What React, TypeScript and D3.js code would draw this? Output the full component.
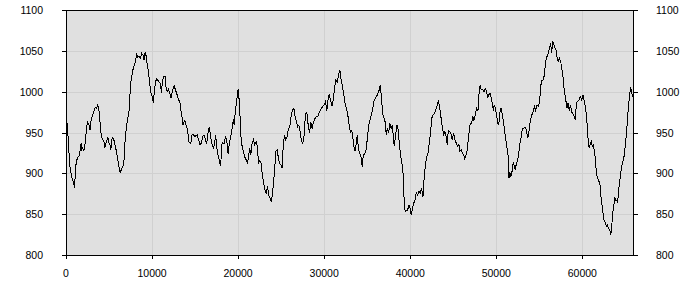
import React from "react";
import * as d3 from "d3";

// Traced series: x positions and values
const xValues: number[] = [
  0, 117, 195, 311, 389, 506, 700, 856, 1012, 1089, 1245, 1401, 1556, 1673, 1751, 1829, 1946, 2062, 2179, 2335,
  2490, 2646, 2802, 2918, 3074, 3230, 3385, 3541, 3696, 3852, 3969, 4086, 4241, 4397, 4514, 4630, 4747, 4864, 4981, 5097,
  5214, 5370, 5525, 5681, 5837, 5992, 6148, 6304, 6459, 6615, 6732, 6848, 7004, 7160, 7315, 7393, 7471, 7626, 7782, 7938,
  8093, 8210, 8327, 8482, 8638, 8794, 8949, 9066, 9183, 9339, 9455, 9572, 9728, 9844, 10000, 10156, 10272, 10389, 10506, 10661,
  10817, 10973, 11089, 11206, 11362, 11518, 11634, 11751, 11907, 12062, 12218, 12374, 12568, 12724, 12918, 13074, 13230, 13346, 13463, 13580,
  13696, 13813, 13930, 14047, 14163, 14280, 14397, 14514, 14630, 14786, 14942, 15097, 15253, 15409, 15564, 15720, 15875, 16031, 16187, 16342,
  16498, 16654, 16770, 16926, 17121, 17276, 17393, 17510, 17626, 17743, 17860, 17977, 18093, 18210, 18366, 18521, 18677, 18833, 18988, 19144,
  19300, 19455, 19533, 19689, 19844, 20000, 20156, 20310, 20465, 20620, 20775, 20969, 21085, 21202, 21357, 21473, 21628, 21783, 21938, 22093,
  22248, 22364, 22519, 22674, 22791, 22946, 23101, 23256, 23411, 23566, 23721, 23876, 23992, 24109, 24264, 24380, 24535, 24690, 24845, 25000,
  25116, 25233, 25388, 25543, 25698, 25853, 26008, 26163, 26318, 26473, 26589, 26744, 26899, 27054, 27209, 27364, 27519, 27674, 27829, 27984,
  28140, 28295, 28450, 28605, 28760, 28915, 29070, 29225, 29380, 29535, 29690, 29845, 30000, 30155, 30310, 30465, 30581, 30736, 30891, 31047,
  31202, 31357, 31512, 31667, 31822, 31977, 32132, 32287, 32442, 32597, 32752, 32907, 33062, 33178, 33295, 33450, 33605, 33721, 33837, 33953,
  34109, 34264, 34419, 34535, 34690, 34845, 35000, 35155, 35310, 35465, 35620, 35775, 35930, 36085, 36240, 36395, 36512, 36628, 36744, 36860,
  37016, 37132, 37209, 37326, 37481, 37636, 37791, 37946, 38023, 38140, 38295, 38450, 38605, 38760, 38915, 39070, 39186, 39302, 39419, 39574,
  39690, 39845, 40000, 40116, 40233, 40388, 40543, 40698, 40853, 41008, 41163, 41318, 41473, 41589, 41744, 41899, 42054, 42209, 42364, 42481,
  42636, 42791, 42946, 43101, 43256, 43411, 43566, 43721, 43876, 44031, 44186, 44302, 44419, 44574, 44729, 44884, 45039, 45194, 45349, 45504,
  45659, 45775, 45930, 46085, 46240, 46318, 46473, 46628, 46744, 46860, 46977, 47132, 47248, 47403, 47558, 47713, 47868, 48023, 48140, 48256,
  48411, 48566, 48721, 48876, 48992, 49109, 49264, 49419, 49535, 49651, 49767, 49884, 50000, 50116, 50233, 50349, 50465, 50581, 50698, 50814,
  50930, 51047, 51163, 51279, 51395, 51473, 51589, 51705, 51860, 51977, 52093, 52209, 52326, 52481, 52597, 52752, 52907, 53023, 53178, 53333,
  53488, 53643, 53798, 53953, 54109, 54264, 54419, 54574, 54729, 54884, 55039, 55155, 55271, 55426, 55581, 55736, 55891, 56047, 56202, 56318,
  56434, 56550, 56667, 56822, 56938, 57054, 57171, 57326, 57481, 57636, 57752, 57868, 57984, 58101, 58217, 58333, 58488, 58605, 58760, 58915,
  59070, 59186, 59302, 59457, 59612, 59767, 59922, 60078, 60194, 60349, 60465, 60581, 60698, 60814, 60930, 61047, 61163, 61279, 61395, 61512,
  61628, 61783, 61938, 62054, 62171, 62287, 62403, 62519, 62674, 62791, 62907, 63023, 63178, 63295, 63411, 63527, 63643, 63760, 63876, 63992,
  64109, 64225, 64341, 64457, 64574, 64690, 64806, 64922, 65039, 65155, 65271, 65388, 65504, 65581, 65698, 65814, 65930, 66000,
];

const yValues: number[] = [
  955, 962, 951, 937, 914, 904, 894, 889, 882, 906, 916, 920, 922, 930, 937, 929, 931, 927, 933, 949,
  963, 960, 953, 965, 971, 975, 981, 980, 984, 975, 961, 947, 941, 940, 931, 937, 940, 944, 938, 935,
  929, 944, 943, 935, 928, 918, 908, 900, 906, 908, 914, 937, 955, 967, 975, 986, 1006, 1018, 1027, 1033,
  1037, 1047, 1042, 1043, 1041, 1047, 1045, 1039, 1048, 1043, 1031, 1025, 1010, 1000, 994, 986, 1002, 1010, 1016, 1014,
  1012, 1010, 998, 1014, 1018, 1018, 1004, 1000, 1003, 998, 992, 1002, 1007, 1002, 996, 990, 988, 977, 971, 959,
  963, 965, 959, 957, 949, 939, 937, 937, 947, 948, 945, 946, 947, 941, 935, 937, 945, 947, 942, 936,
  949, 957, 947, 937, 931, 937, 947, 933, 924, 920, 912, 909, 935, 937, 936, 945, 941, 924, 937, 945,
  955, 967, 959, 977, 990, 1003, 986, 947, 933, 927, 920, 916, 912, 920, 931, 922, 937, 941, 935, 939,
  933, 912, 916, 912, 900, 890, 880, 876, 884, 873, 869, 865, 876, 888, 908, 927, 929, 918, 912, 910,
  906, 933, 947, 941, 945, 955, 957, 971, 977, 980, 971, 965, 957, 959, 951, 939, 937, 947, 973, 975,
  959, 949, 963, 955, 963, 967, 969, 969, 973, 977, 980, 982, 984, 988, 977, 992, 996, 990, 982, 990,
  1004, 1014, 1012, 1020, 1027, 1014, 1006, 996, 984, 980, 971, 959, 949, 953, 947, 933, 927, 937, 947, 933,
  924, 922, 908, 922, 924, 927, 941, 957, 965, 971, 977, 988, 992, 994, 998, 1002, 1008, 996, 980, 969,
  967, 959, 947, 955, 949, 961, 955, 959, 945, 933, 947, 959, 953, 933, 920, 910, 898, 863, 853, 855,
  855, 861, 857, 849, 855, 863, 867, 876, 873, 878, 876, 882, 871, 890, 908, 920, 924, 937, 949, 967,
  971, 973, 977, 982, 988, 982, 969, 957, 947, 951, 945, 935, 953, 951, 949, 941, 949, 941, 937, 933,
  935, 927, 929, 924, 922, 917, 922, 929, 941, 953, 961, 961, 970, 965, 971, 980, 977, 1002, 1008, 1002,
  1003, 1000, 1004, 1000, 992, 996, 998, 992, 986, 977, 984, 980, 973, 965, 959, 965, 980, 980, 971, 965,
  955, 945, 937, 929, 920, 894, 901, 896, 904, 914, 908, 904, 912, 916, 924, 937, 945, 955, 955, 957,
  953, 943, 951, 965, 971, 975, 982, 977, 984, 982, 988, 1006, 1014, 1014, 1020, 1037, 1043, 1047, 1055, 1059,
  1047, 1061, 1059, 1053, 1051, 1043, 1037, 1041, 1037, 1027, 1018, 1004, 996, 988, 980, 986, 977, 984, 975, 973,
  969, 965, 986, 988, 990, 994, 990, 996, 990, 982, 971, 957, 935, 931, 937, 939, 933, 935, 927, 918,
  900, 894, 890, 886, 871, 861, 851, 843, 839, 835, 837, 833, 831, 824, 835, 851, 859, 871, 867, 867,
  865, 880, 890, 900, 908, 914, 918, 927, 939, 953, 971, 986, 994, 1006, 1002, 994, 998, 996,
];

const xTicks: number[] = [0, 10000, 20000, 30000, 40000, 50000, 60000];
const yTicks: number[] = [800, 850, 900, 950, 1000, 1050, 1100];

const W = 700;
const H = 300;
const M = { left: 66, right: 66, top: 10, bottom: 45 };

export default function App() {
  const innerW = W - M.left - M.right;
  const innerH = H - M.top - M.bottom;
  const x = d3.scaleLinear().domain([0, 66000]).range([M.left, M.left + innerW]);
  const y = d3.scaleLinear().domain([800, 1100]).range([M.top + innerH, M.top]);
  const pts: [number, number][] = xValues.map((v, i) => [v, yValues[i]]);
  const line = d3
    .line<[number, number]>()
    .x((d) => x(d[0]))
    .y((d) => y(d[1]));
  const font = "'Liberation Sans', Arial, sans-serif";
  const x0 = M.left;
  const x1 = M.left + innerW;
  const y0 = M.top + innerH;
  const y1 = M.top;
  return (
    <svg
      width={W}
      height={H}
      style={{ position: "absolute", left: 0, top: 0, display: "block" }}
    >
      <rect x={0} y={0} width={W} height={H} fill="#ffffff" />
      <rect x={x0} y={y1} width={innerW} height={innerH} fill="#e0e0e0" />
      <g shapeRendering="crispEdges" stroke="#d0d0d0" strokeWidth={1}>
        {xTicks.slice(1).map((t) => (
          <line key={"gx" + t} x1={Math.round(x(t)) + 0.5} x2={Math.round(x(t)) + 0.5} y1={y1} y2={y0} />
        ))}
        {yTicks.slice(1, -1).map((t) => (
          <line key={"gy" + t} x1={x0} x2={x1} y1={Math.round(y(t)) + 0.5} y2={Math.round(y(t)) + 0.5} />
        ))}
      </g>
      <path d={line(pts) || ""} fill="none" stroke="#000000" strokeWidth={1} shapeRendering="crispEdges" />
      <g shapeRendering="crispEdges" stroke="#000000" strokeWidth={1}>
        <rect x={x0 + 0.5} y={y1 + 0.5} width={innerW - 1} height={innerH} fill="none" />
        {yTicks.map((t) => (
          <g key={"ty" + t}>
            <line x1={x0 - 4} x2={x0} y1={Math.round(y(t)) + 0.5} y2={Math.round(y(t)) + 0.5} />
            <line x1={x1} x2={x1 + 4} y1={Math.round(y(t)) + 0.5} y2={Math.round(y(t)) + 0.5} />
          </g>
        ))}
        {xTicks.map((t) => (
          <line key={"tx" + t} x1={Math.round(x(t)) + 0.5} x2={Math.round(x(t)) + 0.5} y1={y0} y2={y0 + 4} />
        ))}
      </g>
      <g fontFamily={font} fontSize={10.5} fill="#000000">
        {yTicks.map((t) => (
          <g key={"ly" + t}>
            <text x={43} y={y(t) + 4} textAnchor="end">{t}</text>
            <text x={656} y={y(t) + 4} textAnchor="start">{t}</text>
          </g>
        ))}
        {xTicks.map((t) => (
          <text key={"lx" + t} x={x(t)} y={277} textAnchor="middle">{t}</text>
        ))}
      </g>
    </svg>
  );
}
